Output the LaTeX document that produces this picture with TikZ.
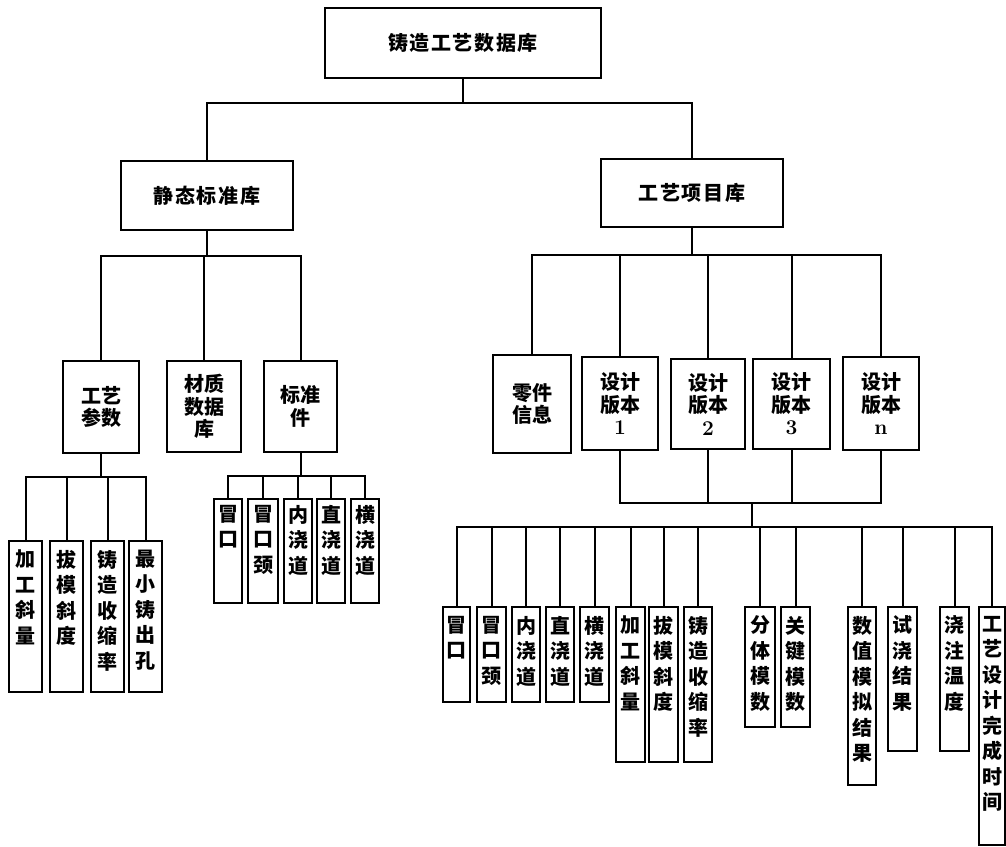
\documentclass[tikz,border=0pt]{standalone}
\usepackage{fontspec}
\newfontfamily\cjk{Noto Sans CJK SC}
\newfontfamily\cjkw[LetterSpace=8]{Noto Sans CJK SC}
\newcommand\cbx[7][]{%
  \pgfmathsetmacro\myW{#4-#3}\pgfmathsetmacro\myH{#6-#5}%
  \pgfmathsetmacro\myX{(#3+#4)/2}\pgfmathsetmacro\myY{(#5+#6)/2}%
  \node[bx,#1,minimum width=\myW pt,minimum height=\myH pt] (#2) at (\myX,\myY) {#7};}
\newcommand\vbx[7]{%
  \pgfmathsetmacro\myW{#3-#2}\pgfmathsetmacro\myH{#5-#4}%
  \pgfmathsetmacro\myX{(#2+#3)/2}\pgfmathsetmacro\myY{(#4+#5)/2}%
  \pgfmathsetmacro\myP{#5-#4-2*#6}%
  \node[bx,minimum width=\myW pt,minimum height=\myH pt] (#1) at (\myX,\myY)
    {\parbox[c][\myP pt][t]{\myW pt}{\centering\fontsize{20}{25.5}\selectfont #7}};}
\newcommand\dig[1]{{\normalfont\bfseries\fontsize{21}{22.5}\selectfont #1}}
\begin{document}
\begin{tikzpicture}[x=1pt,y=-1pt,
  bx/.style={draw,line width=2.4pt,inner sep=0pt,outer sep=0pt,align=center,
    font={\cjk\bfseries\fontsize{20}{22.5}\selectfont}},
  ln/.style={line width=2pt}]
\useasboundingbox (0,0) rectangle (1006,846);
% upper levels
\cbx[font={\cjkw\bfseries\fontsize{20}{22}\selectfont}]{root}{325}{601}{8}{78}{铸造工艺数据库}
\cbx[font={\cjkw\bfseries\fontsize{20}{22}\selectfont}]{static}{121}{293}{161}{230}{静态标准库}
\cbx[font={\cjkw\bfseries\fontsize{20}{22}\selectfont}]{proj}{601}{783}{159}{227}{工艺项目库}
\cbx{gycs}{63}{139}{361}{453}{工艺\\参数}
\cbx{czsj}{167}{241}{361}{452}{材质\\数据\\库}
\cbx{bzj}{264}{337}{361}{452}{标准\\件}
\cbx{ljxx}{493}{571}{355}{453}{零件\\信息}
\cbx{v1}{582}{658}{357}{450}{设计\\版本\\\dig{1}}
\cbx{v2}{671}{745}{359}{449}{设计\\版本\\\dig{2}}
\cbx{v3}{753}{830}{359}{449}{设计\\版本\\\dig{3}}
\cbx{vn}{843}{919}{357}{450}{设计\\版本\\\dig{n}}
% left leaves
\vbx{a1}{9}{42}{541}{692}{9}{加\\工\\斜\\量}
\vbx{a2}{50}{83}{541}{692}{9}{拔\\模\\斜\\度}
\vbx{a3}{91}{124}{541}{692}{9}{铸\\造\\收\\缩\\率}
\vbx{a4}{129}{162}{541}{692}{9}{最\\小\\铸\\出\\孔}
\vbx{b1}{214}{242}{499}{603}{6}{冒\\口}
\vbx{b2}{248}{278}{499}{603}{6}{冒\\口\\颈}
\vbx{b3}{284}{312}{499}{603}{6}{内\\浇\\道}
\vbx{b4}{317}{345}{499}{603}{6}{直\\浇\\道}
\vbx{b5}{351}{379}{499}{603}{6}{横\\浇\\道}
% right leaves
\vbx{c1}{443}{470}{607}{702}{9}{冒\\口}
\vbx{c2}{477}{506}{607}{702}{9}{冒\\口\\颈}
\vbx{c3}{512}{540}{607}{702}{9}{内\\浇\\道}
\vbx{c4}{546}{574}{607}{702}{9}{直\\浇\\道}
\vbx{c5}{580}{609}{607}{702}{9}{横\\浇\\道}
\vbx{c6}{616}{645}{607}{762}{9}{加\\工\\斜\\量}
\vbx{c7}{649}{678}{607}{762}{9}{拔\\模\\斜\\度}
\vbx{c8}{684}{712}{607}{762}{9}{铸\\造\\收\\缩\\率}
\vbx{c9}{745}{775}{607}{727}{9}{分\\体\\模\\数}
\vbx{c10}{781}{810}{607}{727}{9}{关\\键\\模\\数}
\vbx{c11}{848}{876}{607}{785}{9}{数\\值\\模\\拟\\结\\果}
\vbx{c12}{888}{917}{607}{751}{9}{试\\浇\\结\\果}
\vbx{c13}{940}{969}{607}{751}{9}{浇\\注\\温\\度}
\vbx{c14}{979}{1005}{607}{845}{9}{工\\艺\\设\\计\\完\\成\\时\\间}
% junctions
\coordinate (j0) at (463,103);
\coordinate (j1) at (207,256);
\coordinate (j2) at (101,477);
\coordinate (j3) at (300.5,476);
\coordinate (j4) at (692,255);
\coordinate (j5) at (752,503);
\coordinate (j6) at (752,527);
% connectors
\draw[ln] (root.south) -- (j0);
\draw[ln] (static.north) |- (j0) -| (proj.north);
\draw[ln] (static.south) -- (j1);
\draw[ln] (gycs.north) |- (j1) -| (bzj.north);
\draw[ln] (czsj.north) -- (czsj.north |- j1);
\draw[ln] (gycs.south) -- (j2);
\draw[ln] (a1.north) |- (j2) -| (a4.north);
\foreach \n in {a2,a3} \draw[ln] (\n.north) -- (\n.north |- j2);
\draw[ln] (bzj.south) -- (j3);
\draw[ln] (b1.north) |- (j3) -| (b5.north);
\foreach \n in {b2,b3,b4} \draw[ln] (\n.north) -- (\n.north |- j3);
\draw[ln] (proj.south) -- (j4);
\draw[ln] (ljxx.north) |- (j4) -| (vn.north);
\foreach \n in {v1,v2,v3} \draw[ln] (\n.north) -- (\n.north |- j4);
\draw[ln] (v1.south) |- (j5) -| (vn.south);
\foreach \n in {v2,v3} \draw[ln] (\n.south) -- (\n.south |- j5);
\draw[ln] (j5) -- (j6);
\draw[ln] (c1.north) |- (j6) -| (c14.north);
\foreach \n in {c2,c3,c4,c5,c6,c7,c8,c9,c10,c11,c12,c13} \draw[ln] (\n.north) -- (\n.north |- j6);
\end{tikzpicture}
\end{document}
